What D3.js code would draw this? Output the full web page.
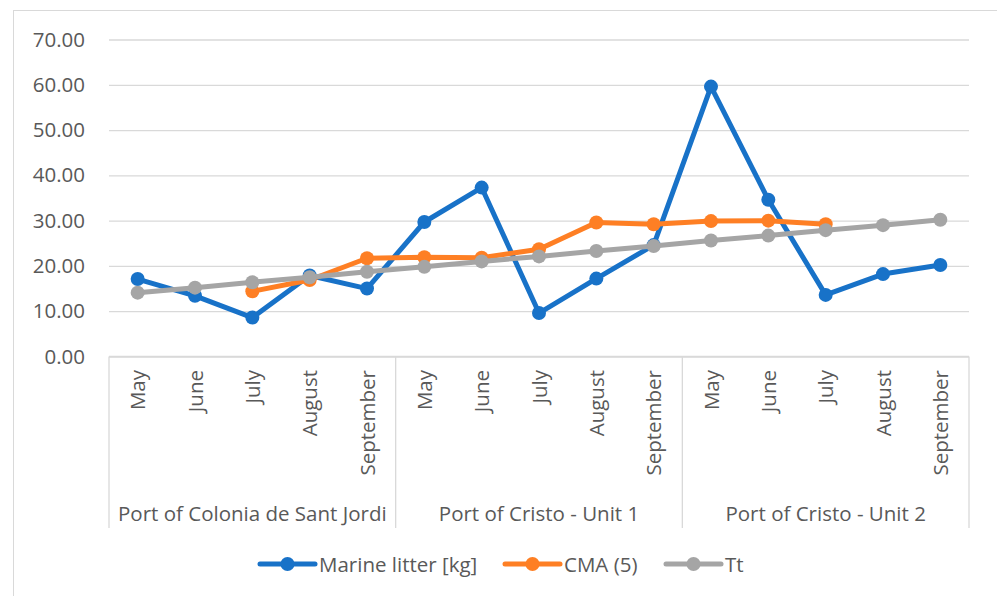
<!DOCTYPE html>
<html><head><meta charset="utf-8">
<script src="https://cdn.jsdelivr.net/npm/d3@7"></script>
<style>body{margin:0;background:#fff}svg{display:block}text{font-family:"Open Sans","Liberation Sans",sans-serif;fill:#595959;font-weight:400}</style>
</head><body><svg id="c" width="997" height="596"></svg>
<script>
const groups = ["Port of Colonia de Sant Jordi","Port of Cristo - Unit 1","Port of Cristo - Unit 2"];
const months = ["May","June","July","August","September"];
const marineLitter = [17.1,13.4,8.6,17.9,15.0, 29.7,37.3,9.6,17.2,24.6, 59.6,34.6,13.6,18.2,20.2];
const cma5 = [null,null,14.4,16.9,21.7, 21.9,21.8,23.7,29.6,29.2, 29.9,30.0,29.2,null,null];
const tt = [14.1,15.2,16.4,17.5,18.7, 19.8,21.0,22.1,23.3,24.4, 25.6,26.7,27.9,29.0,30.2];
const yTicks = [0,10,20,30,40,50,60,70];
const seriesNames = ["Marine litter [kg]","CMA (5)","Tt"];
const colors = ["#1872C8","#FE7F24","#A5A5A5"];

const FS = "20.5px";
const svg = d3.select("#c");
const L = 109, R = 969, T = 39.5, B = 356.5;
const cats = [];
groups.forEach((g,gi)=>months.forEach((m,mi)=>cats.push({g:gi,m,key:gi+"-"+mi})));
const x = d3.scaleBand().domain(cats.map(c=>c.key)).range([L,R]);
const y = d3.scaleLinear().domain([0,70]).range([B,T]);

// outer border
svg.append("rect").attr("x",13.5).attr("y",10.5).attr("width",1000).attr("height",600)
  .attr("fill","none").attr("stroke","#d9d9d9").attr("stroke-width",1);

// grid + y labels
const yAxis = d3.axisLeft(y).tickValues(yTicks).tickFormat(d3.format(".2f")).tickSize(-(R-L)).tickPadding(24);
const ga = svg.append("g").attr("transform",`translate(${L},0)`).call(yAxis);
ga.select(".domain").remove();
ga.selectAll(".tick line").attr("stroke","#d9d9d9").attr("stroke-width",1.3);
ga.selectAll(".tick text").style("font-size",FS).attr("fill","#595959");

// x axis line & separators
const sepX = [0,5,10,15].map(i=> i<15 ? x(cats[i].key) : R);
svg.append("line").attr("x1",L).attr("x2",R).attr("y1",B).attr("y2",B).attr("stroke","#d9d9d9").attr("stroke-width",1.3);
sepX.forEach(sx=>svg.append("line").attr("x1",sx).attr("x2",sx).attr("y1",B).attr("y2",528).attr("stroke","#d9d9d9").attr("stroke-width",1.3));

// month labels
svg.append("g").selectAll("text").data(cats).join("text")
  .attr("transform",d=>`translate(${x(d.key)+x.bandwidth()/2+7.5},370) rotate(-90)`)
  .attr("text-anchor","end").style("font-size",FS).text(d=>d.m);

// group labels
groups.forEach((g,gi)=>{
  svg.append("text").attr("x",(sepX[gi]+sepX[gi+1])/2).attr("y",520.5)
   .attr("text-anchor","middle").style("font-size",FS).text(g);
});

// series
const allSeries = [marineLitter,cma5,tt];
const cx = i=>x(cats[i].key)+x.bandwidth()/2;
allSeries.forEach((s,si)=>{
  const pts = s.map((v,i)=>({v,i})).filter(d=>d.v!==null);
  svg.append("path").datum(pts)
    .attr("d",d3.line().x(d=>cx(d.i)).y(d=>y(d.v)))
    .attr("fill","none").attr("stroke",colors[si]).attr("stroke-width",5).attr("stroke-linejoin","round").attr("stroke-linecap","round");
  svg.append("g").selectAll("circle").data(pts).join("circle")
    .attr("cx",d=>cx(d.i)).attr("cy",d=>y(d.v)).attr("r",7).attr("fill",colors[si]);
});

// legend
const legX = [260,505,666];
seriesNames.forEach((n,i)=>{
  const g = svg.append("g").attr("transform",`translate(${legX[i]},564)`);
  g.append("line").attr("x1",0).attr("x2",55).attr("stroke",colors[i]).attr("stroke-width",5).attr("stroke-linecap","round");
  g.append("circle").attr("cx",27.5).attr("r",7).attr("fill",colors[i]);
  g.append("text").attr("x",59).attr("y",7.5).style("font-size",FS).text(n);
});
</script></body></html>
